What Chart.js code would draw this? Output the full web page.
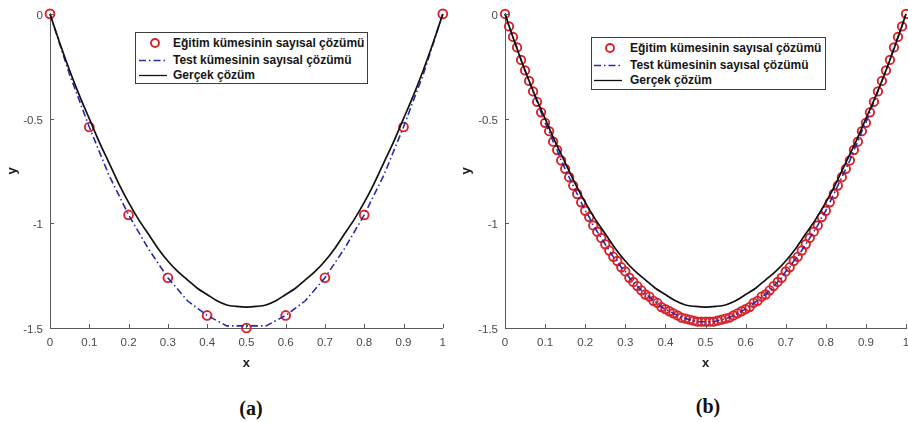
<!DOCTYPE html>
<html><head><meta charset="utf-8">
<script src="https://cdn.jsdelivr.net/npm/chart.js@4.4.0/dist/chart.umd.min.js"></script>
<style>
html,body{margin:0;padding:0;background:#fff;width:908px;height:422px;overflow:hidden;position:relative;font-family:"Liberation Sans",Arial,sans-serif;}
canvas{position:absolute;top:0;}
#ca{left:0;}
#cb{left:454px;}
.legend{position:absolute;background:#fff;border:1px solid #3c3c3c;box-sizing:border-box;}
.row{position:absolute;left:0;right:0;height:16px;line-height:16px;font-weight:bold;font-size:12px;color:#151515;white-space:nowrap;}
.row svg{position:absolute;top:0;}
.row span{position:absolute;top:0;}
.cap{position:absolute;width:80px;text-align:center;font:bold 20px "Liberation Serif","Times New Roman",serif;color:#111;line-height:24px;}
</style>
</head><body>
<canvas id="ca" width="454" height="380"></canvas>
<canvas id="cb" width="470" height="380"></canvas>
<div id="la" class="legend" style="left:135px;top:32px;width:233px;height:52px;"></div>
<div id="lb" class="legend" style="left:591px;top:37px;width:235px;height:53px;"></div>
<div class="cap" style="left:211px;top:396px;">(a)</div>
<div class="cap" style="left:668px;top:394px;">(b)</div>
<script>
// ---- data ----
const seriesNames = ['Eğitim kümesinin sayısal çözümü', 'Test kümesinin sayısal çözümü', 'Gerçek çözüm'];
const xTicks = [0,0.1,0.2,0.3,0.4,0.5,0.6,0.7,0.8,0.9,1];
const xTickLabels = ['0','0.1','0.2','0.3','0.4','0.5','0.6','0.7','0.8','0.9','1'];
const yTicks = [-1.5,-1,-0.5,0];
const yTickLabels = ['-1.5','-1','-0.5','0'];

// panel (a)
const trainA_x = [0,0.1,0.2,0.3,0.4,0.5,0.6,0.7,0.8,0.9,1];
const trainA_y = [0,-0.54,-0.96,-1.26,-1.44,-1.50,-1.44,-1.26,-0.96,-0.54,0];
const testA_x = [0,0.05,0.1,0.15,0.2,0.25,0.3,0.35,0.4,0.45,0.5,0.55,0.6,0.65,0.7,0.75,0.8,0.85,0.9,0.95,1];
const testA_y = [0,-0.29,-0.54,-0.77,-0.96,-1.12,-1.26,-1.37,-1.44,-1.49,-1.49,-1.49,-1.44,-1.37,-1.26,-1.12,-0.96,-0.77,-0.54,-0.29,0];

// true solution (both panels)
const true_x = [0,0.025,0.05,0.075,0.1,0.125,0.15,0.175,0.2,0.225,0.25,0.275,0.3,0.325,0.35,0.375,0.4,0.425,0.45,0.475,0.5,
                0.525,0.55,0.575,0.6,0.625,0.65,0.675,0.7,0.725,0.75,0.775,0.8,0.825,0.85,0.875,0.9,0.925,0.95,0.975,1];
const true_y = [0,-0.14,-0.27,-0.39,-0.50,-0.61,-0.71,-0.81,-0.90,-0.98,-1.05,-1.12,-1.18,-1.23,-1.27,-1.31,-1.34,-1.37,-1.39,-1.397,-1.40,
                -1.397,-1.39,-1.37,-1.34,-1.31,-1.27,-1.23,-1.18,-1.12,-1.05,-0.98,-0.90,-0.81,-0.71,-0.61,-0.50,-0.39,-0.27,-0.14,0];

// panel (b)
const trainB_x = [0,0.01,0.02,0.03,0.04,0.05,0.06,0.07,0.08,0.09,0.1,0.11,0.12,0.13,0.14,0.15,0.16,0.17,0.18,0.19,0.2,0.21,0.22,0.23,0.24,0.25,0.26,0.27,0.28,0.29,0.3,0.31,0.32,0.33,0.34,0.35,0.36,0.37,0.38,0.39,0.4,0.41,0.42,0.43,0.44,0.45,0.46,0.47,0.48,0.49,0.5,0.51,0.52,0.53,0.54,0.55,0.56,0.57,0.58,0.59,0.6,0.61,0.62,0.63,0.64,0.65,0.66,0.67,0.68,0.69,0.7,0.71,0.72,0.73,0.74,0.75,0.76,0.77,0.78,0.79,0.8,0.81,0.82,0.83,0.84,0.85,0.86,0.87,0.88,0.89,0.9,0.91,0.92,0.93,0.94,0.95,0.96,0.97,0.98,0.99,1];
const trainB_y = [0,-0.06,-0.11,-0.16,-0.22,-0.27,-0.32,-0.37,-0.42,-0.47,-0.52,-0.56,-0.61,-0.65,-0.70,-0.74,-0.78,-0.82,-0.86,-0.90,-0.94,-0.97,-1.01,-1.04,-1.07,-1.10,-1.13,-1.16,-1.18,-1.21,-1.23,-1.26,-1.28,-1.30,-1.32,-1.34,-1.35,-1.37,-1.38,-1.40,-1.41,-1.42,-1.43,-1.44,-1.45,-1.455,-1.46,-1.465,-1.47,-1.47,-1.47,
  -1.47,-1.47,-1.465,-1.46,-1.455,-1.45,-1.44,-1.43,-1.42,-1.41,-1.40,-1.38,-1.37,-1.35,-1.34,-1.32,-1.30,-1.28,-1.26,-1.23,-1.21,-1.18,-1.16,-1.13,-1.10,-1.07,-1.04,-1.01,-0.97,-0.94,-0.90,-0.86,-0.82,-0.78,-0.74,-0.70,-0.65,-0.61,-0.56,-0.52,-0.47,-0.42,-0.37,-0.32,-0.27,-0.22,-0.16,-0.11,-0.06,0];
const testB_x = trainB_x;   // test curve passes through the same points
const testB_y = trainB_y;

// ---- styles ----
const RED = '#d8232a', BLUE = '#2a2aa8', BLACK = '#111111', AXIS = '#5a5a5a', TICKC = '#4a4a4a';
const DASHDOT = [7,3,1.5,3];

const pts = (xs, ys) => xs.map((x,i)=>({x, y: ys[i]}));

const inwardTicks = {
  id: 'inwardTicks',
  afterDatasetsDraw(chart) {
    const {ctx, chartArea: a, scales: {x, y}} = chart;
    ctx.save();
    ctx.strokeStyle = AXIS; ctx.lineWidth = 1;
    ctx.beginPath();
    x.ticks.forEach((t,i) => { const px = Math.round(x.getPixelForTick(i)) + 0.5; ctx.moveTo(px, a.bottom); ctx.lineTo(px, a.bottom - 4); });
    y.ticks.forEach((t,i) => { const py = Math.round(y.getPixelForTick(i)) + 0.5; ctx.moveTo(a.left, py); ctx.lineTo(a.left + 4, py); });
    ctx.stroke();
    ctx.restore();
  }
};

Chart.defaults.font.family = '"Liberation Sans", Arial, sans-serif';

function makeChart(id, trX, trY, teX, teY, yWidth, padRight, r) {
  return new Chart(document.getElementById(id), {
    type: 'line',
    data: {
      datasets: [
        { label: seriesNames[0], data: pts(trX, trY), showLine: false, pointRadius: r, pointHoverRadius: r,
          pointStyle: 'circle', pointBorderColor: RED, pointBackgroundColor: 'rgba(0,0,0,0)', pointBorderWidth: 1.9,
          borderColor: RED, order: 3, clip: false },
        { label: seriesNames[1], data: pts(teX, teY), borderColor: BLUE, borderWidth: 1.6, borderDash: DASHDOT,
          pointRadius: 0, tension: 0, fill: false, order: 2, clip: false },
        { label: seriesNames[2], data: pts(true_x, true_y), borderColor: BLACK, borderWidth: 1.7,
          pointRadius: 0, cubicInterpolationMode: 'monotone', fill: false, order: 1, clip: false }
      ]
    },
    options: {
      responsive: false, animation: false, events: [],
      layout: { padding: { left: 0, right: padRight, top: 11, bottom: 0 } },
      plugins: { legend: { display: false }, tooltip: { enabled: false } },
      scales: {
        x: {
          type: 'linear', min: 0, max: 1,
          afterBuildTicks: s => { s.ticks = xTicks.map(v => ({ value: v })); },
          afterFit: s => { s.height = 52; },
          ticks: { autoSkip: false, maxRotation: 0, padding: 8, color: TICKC, font: { size: 11.5 },
                   callback: (v, i) => xTickLabels[i] },
          grid: { display: false, drawTicks: false },
          border: { display: true, color: AXIS, width: 1 },
          title: { display: true, text: 'x', color: '#222', font: { size: 13, weight: 'bold' }, padding: { top: 0, bottom: 9 } }
        },
        y: {
          type: 'linear', min: -1.5, max: 0,
          afterBuildTicks: s => { s.ticks = yTicks.map(v => ({ value: v })); },
          afterFit: s => { s.width = yWidth; },
          ticks: { padding: 7, labelOffset: 2, color: TICKC, font: { size: 11.5 },
                   callback: (v, i) => yTickLabels[i] },
          grid: { display: false, drawTicks: false },
          border: { display: true, color: AXIS, width: 1 },
          title: { display: true, text: 'y', color: '#222', font: { size: 13, weight: 'bold' }, padding: { top: 5, bottom: 0 } }
        }
      }
    },
    plugins: [inwardTicks]
  });
}

makeChart('ca', trainA_x, trainA_y, testA_x, testA_y, 50, 4, 4.4);
makeChart('cb', trainB_x, trainB_y, testB_x, testB_y, 51, 18, 4.2);

// ---- HTML legends ----
function sample(kind) {
  if (kind === 0) return '<circle cx="20" cy="8" r="4" fill="none" stroke="' + RED + '" stroke-width="1.9"/>';
  if (kind === 1) return '<line x1="4" y1="8.5" x2="32" y2="8.5" stroke="' + BLUE + '" stroke-width="1.3" stroke-dasharray="' + DASHDOT.join(' ') + '"/>';
  return '<line x1="4" y1="8.5" x2="32" y2="8.5" stroke="' + BLACK + '" stroke-width="1.3"/>';
}
function buildLegend(id, centers, svgLeft, textLeft) {
  const el = document.getElementById(id);
  el.innerHTML = seriesNames.map((n, i) =>
    '<div class="row" style="top:' + (centers[i] - 8) + 'px"><svg style="left:' + svgLeft + 'px" width="40" height="16">' +
    sample(i) + '</svg><span style="left:' + textLeft + 'px">' + n + '</span></div>').join('');
}
buildLegend('la', [10, 26.5, 42], -1, 37);
buildLegend('lb', [10, 27, 42], -2, 38);
</script>
</body></html>
